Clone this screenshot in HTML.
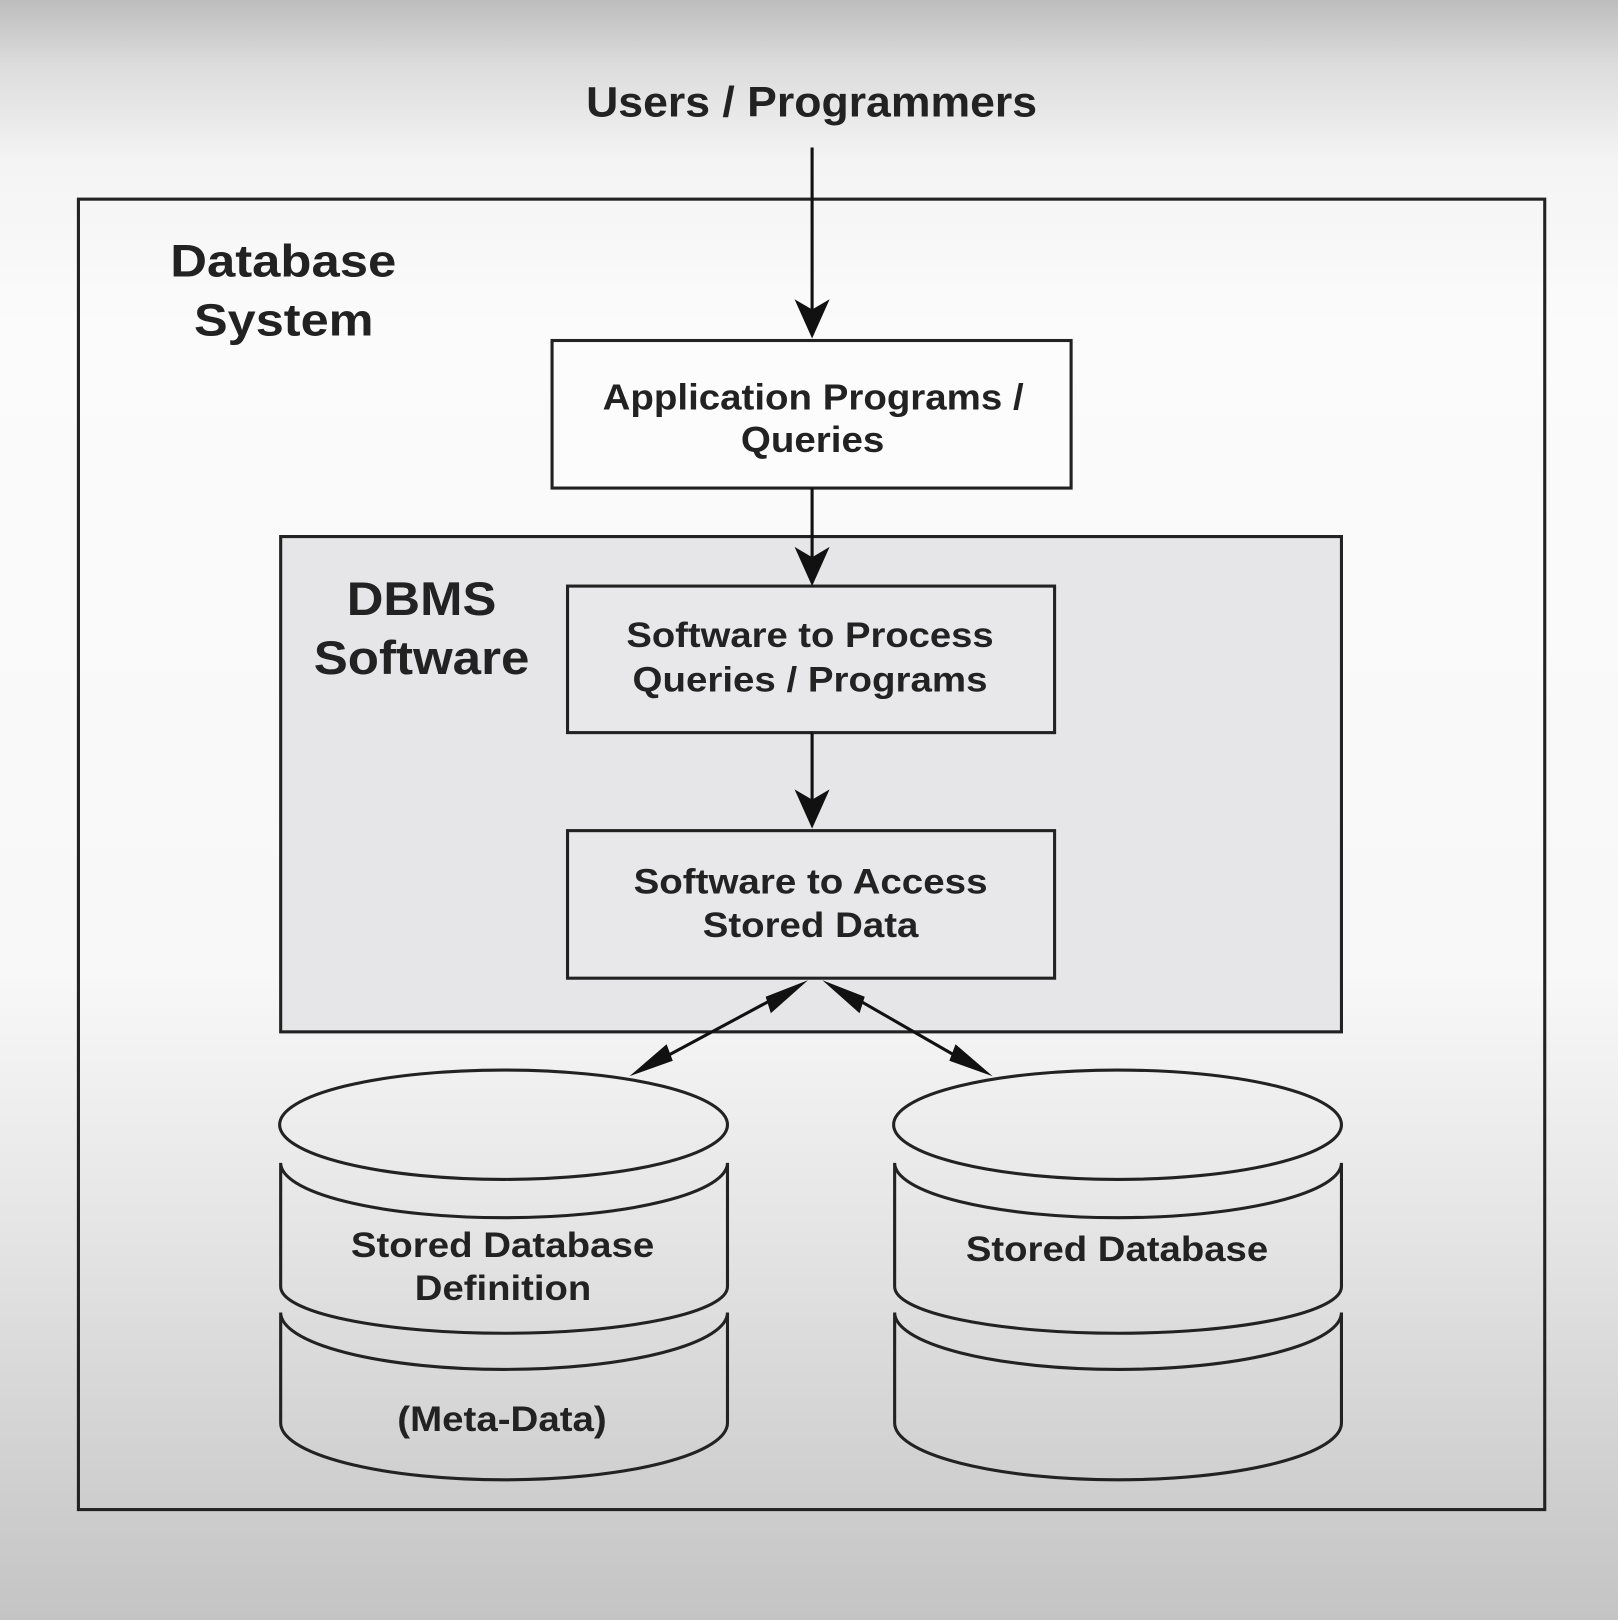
<!DOCTYPE html>
<html><head><meta charset="utf-8"><style>html,body{margin:0;padding:0;}svg{display:block;}</style></head>
<body>
<svg width="1618" height="1620" viewBox="0 0 1568 1570" preserveAspectRatio="none" xmlns="http://www.w3.org/2000/svg" font-family="Liberation Sans, Arial, sans-serif" font-weight="bold" fill="#222">
<defs>
<linearGradient id="bg" x1="0" y1="0" x2="0" y2="1">
<stop offset="0" stop-color="#bdbdbd"/>
<stop offset="0.04" stop-color="#dcdcdc"/>
<stop offset="0.1" stop-color="#f4f4f4"/>
<stop offset="0.2" stop-color="#fbfbfb"/>
<stop offset="0.6" stop-color="#f8f8f8"/>
<stop offset="0.75" stop-color="#e6e6e6"/>
<stop offset="1" stop-color="#c4c4c4"/>
</linearGradient>
<marker id="ah" viewBox="0 0 10 10" refX="10" refY="5" markerWidth="11" markerHeight="11" markerUnits="userSpaceOnUse" orient="auto-start-reverse">
<path d="M0,0 L10,5 L0,10 z" fill="#111"/>
</marker>
</defs>
<rect x="0" y="0" width="1568" height="1570" fill="url(#bg)"/>
<g stroke="#222" stroke-width="3" fill="none">
<rect x="76" y="193" width="1421" height="1270"/>
<rect x="272" y="520" width="1028" height="480" fill="#e6e6e8"/>
<rect x="535" y="330" width="503" height="143" fill="#fcfcfc"/>
<rect x="550" y="568" width="472" height="142" fill="#e8e8ea"/>
<rect x="550" y="805" width="472" height="143" fill="#e8e8ea"/>
</g>
<g fill="#111">
<line x1="787" y1="143" x2="787" y2="300" stroke="#111" stroke-width="3"/>
<path d="M770,290 L787,328 L804,290 L787,300 z"/>
<line x1="787" y1="473" x2="787" y2="540" stroke="#111" stroke-width="3"/>
<path d="M770,530 L787,568 L804,530 L787,540 z"/>
<line x1="787" y1="710" x2="787" y2="775" stroke="#111" stroke-width="3"/>
<path d="M770,765 L787,803 L804,765 L787,775 z"/>
</g>
<g stroke="#111" stroke-width="3">
<line x1="757" y1="964" x2="636" y2="1029"/>
<line x1="823" y1="964" x2="936" y2="1029"/>
</g>
<g fill="#111">
<path d="M783,950 L747,982 L742,966 z"/>
<path d="M610,1043 L646,1012 L652,1028 z"/>
<path d="M797,950 L833,982 L838,966 z"/>
<path d="M962,1043 L926,1012 L920,1028 z"/>
</g>
<g stroke="#222" stroke-width="3" fill="none">
<ellipse cx="488" cy="1090" rx="217" ry="53"/>
<path d="M272,1127 L272,1247 A216,45 0 0 0 705,1247 L705,1127 A216,53 0 0 1 272,1127"/>
<path d="M272,1272 L272,1379 A216,55 0 0 0 705,1379 L705,1272 A216,55 0 0 1 272,1272"/>
<ellipse cx="1083" cy="1090" rx="217" ry="53"/>
<path d="M867,1127 L867,1247 A216,45 0 0 0 1300,1247 L1300,1127 A216,53 0 0 1 867,1127"/>
<path d="M867,1272 L867,1379 A216,55 0 0 0 1300,1379 L1300,1272 A216,55 0 0 1 867,1272"/>
</g>
<text x="568" y="113" font-size="41" textLength="437" lengthAdjust="spacingAndGlyphs">Users / Programmers</text>
<text x="165" y="268" font-size="44" textLength="219" lengthAdjust="spacingAndGlyphs">Database</text>
<text x="188" y="325" font-size="44" textLength="174" lengthAdjust="spacingAndGlyphs">System</text>
<text x="584" y="397" font-size="35" textLength="408" lengthAdjust="spacingAndGlyphs">Application Programs /</text>
<text x="718" y="438" font-size="35" textLength="139" lengthAdjust="spacingAndGlyphs">Queries</text>
<text x="336" y="596" font-size="46" textLength="145" lengthAdjust="spacingAndGlyphs">DBMS</text>
<text x="304" y="653" font-size="46" textLength="209" lengthAdjust="spacingAndGlyphs">Software</text>
<text x="607" y="627" font-size="34" textLength="356" lengthAdjust="spacingAndGlyphs">Software to Process</text>
<text x="613" y="670" font-size="34" textLength="344" lengthAdjust="spacingAndGlyphs">Queries / Programs</text>
<text x="614" y="866" font-size="34" textLength="343" lengthAdjust="spacingAndGlyphs">Software to Access</text>
<text x="681" y="908" font-size="34" textLength="209" lengthAdjust="spacingAndGlyphs">Stored Data</text>
<text x="340" y="1218" font-size="34" textLength="294" lengthAdjust="spacingAndGlyphs">Stored Database</text>
<text x="402" y="1260" font-size="34" textLength="171" lengthAdjust="spacingAndGlyphs">Definition</text>
<text x="385" y="1387" font-size="34" textLength="203" lengthAdjust="spacingAndGlyphs">(Meta-Data)</text>
<text x="936" y="1222" font-size="34" textLength="293" lengthAdjust="spacingAndGlyphs">Stored Database</text>
</svg>
</body></html>
